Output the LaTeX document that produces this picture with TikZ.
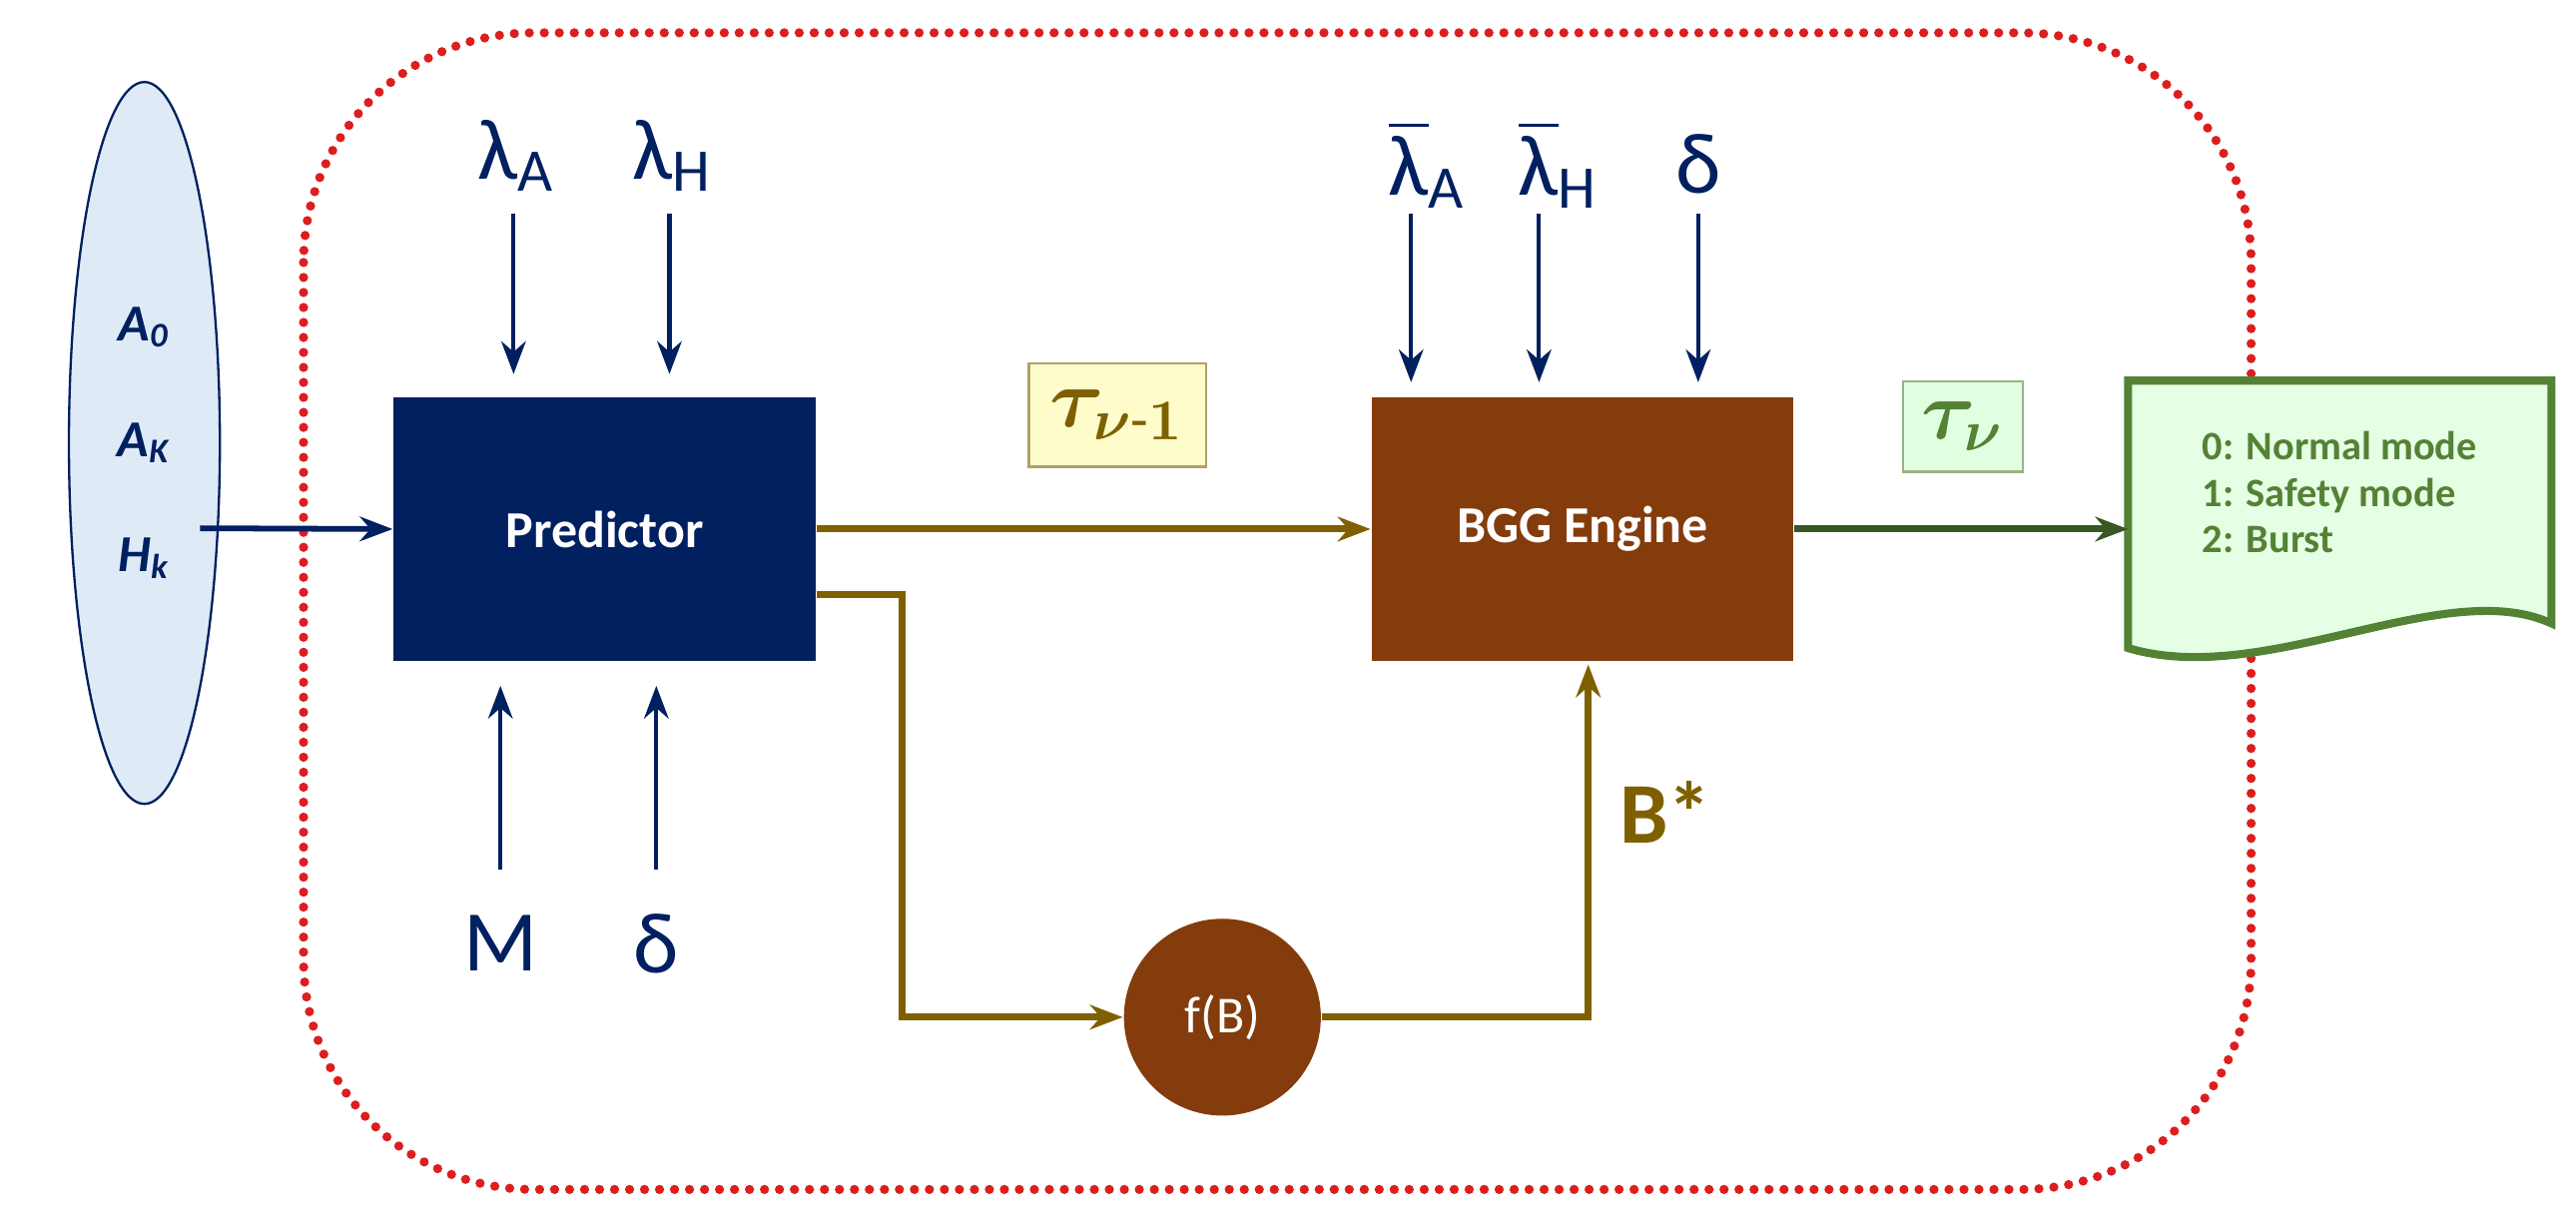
\documentclass[tikz,border=0pt]{standalone}
\usepackage{fontspec}
\usepackage{amsmath}
\setmainfont{Carlito}
\usetikzlibrary{shapes.geometric,arrows.meta}
\definecolor{navyb}{RGB}{0,32,96}
\definecolor{rustb}{RGB}{132,60,12}
\definecolor{olivel}{RGB}{127,96,0}
\definecolor{greend}{RGB}{56,87,35}
\definecolor{greent}{RGB}{84,130,53}
\definecolor{dotred}{RGB}{220,30,30}
\definecolor{inblue}{RGB}{222,235,247}
\begin{document}
\begin{tikzpicture}[
  blockbox/.style={draw=none, minimum width=2.57cm, minimum height=1.61cm, text=white, font=\bfseries\small},
  param/.style={text=navyb, font=\fontsize{15}{17}\selectfont},
  inarrow/.style={-{Stealth[length=2mm]}, navyb, line width=0.7pt},
  oarrow/.style={-{Stealth[length=2mm]}, olivel, line width=1.2pt},
  taubox/.style={draw=olivel!60, fill=#1, inner sep=1pt}
]
\useasboundingbox (0,0) rectangle (15.7,-7.455);
% boundary
\draw[dotred, line width=1.6pt, dash pattern=on 0pt off 2.6pt, line cap=round, rounded corners=1.4cm]
  (1.85,-0.2) rectangle (13.72,-7.25);

% input
\node[ellipse, draw=navyb, fill=inblue, minimum width=0.92cm, minimum height=4.4cm] (inp) at (0.88,-2.7) {};
\node[text=navyb, font=\bfseries\itshape\small, align=center] at (inp) {A\textsubscript{0}\\[9pt]A\textsubscript{K}\\[9pt]H\textsubscript{k}};
\coordinate (inl) at (1.22,-3.22);

% blocks
\node[blockbox, fill=navyb] (pred) at (3.685,-3.225) {Predictor};
\node[blockbox, fill=rustb] (bgg) at (9.645,-3.225) {BGG Engine};
\node[circle, fill=rustb, minimum size=1.2cm, text=white, font=\small] (fb) at (7.45,-6.2) {f(B)};

% predictor parameters
\node[param] (la) at (3.15,-0.95) {λ\textsubscript{A}};
\node[param] (lh) at (4.1,-0.95) {λ\textsubscript{H}};
\node[param] (pm) at (3.05,-5.75) {M};
\node[param] (pd) at (4.0,-5.75) {δ};
\draw[inarrow] (3.13,-1.3) -- (3.13,-2.28);
\draw[inarrow] (4.08,-1.3) -- (4.08,-2.28);
\draw[inarrow] (3.05,-5.3) -- (3.05,-4.18);
\draw[inarrow] (4.0,-5.3) -- (4.0,-4.18);

% engine parameters
\node[param] (bla) at (8.7,-1.0) {$\overline{\text{λ}}$\textsubscript{A}};
\node[param] (blh) at (9.5,-1.0) {$\overline{\text{λ}}$\textsubscript{H}};
\node[param] (bd) at (10.35,-1.0) {δ};
\draw[inarrow] (8.6,-1.3) -- (8.6,-2.33);
\draw[inarrow] (9.38,-1.3) -- (9.38,-2.33);
\draw[inarrow] (10.35,-1.3) -- (10.35,-2.33);

% output document
\draw[draw=greent, line width=1.4pt, fill=green!10] (12.97,-2.32) -- (15.55,-2.32) -- (15.55,-3.8)
  .. controls (14.9,-3.5) and (13.8,-4.2) .. (12.97,-3.95) -- cycle;
\node[text=greent, font=\bfseries\scriptsize, align=left] (out) at (14.26,-3.0) {0: Normal mode\\1: Safety mode\\2: Burst};

% connectors
\draw[inarrow, line width=1pt] (inl) -- (pred.west);
\draw[oarrow] (pred.east) -- (bgg.west);
\draw[oarrow] ([yshift=-0.4cm]pred.east) -| (5.5,-6.2) -- (fb.west);
\draw[oarrow] (fb.east) -| (9.68,-4.05);
\draw[-{Stealth[length=2mm]}, greend, line width=1.2pt] (bgg.east) -- (12.97,-3.225);

% labels
\node[taubox=yellow!20, minimum width=1.08cm, minimum height=0.63cm] (tau1) at (6.81,-2.53) {\textcolor{olivel}{\Large$\boldsymbol{\tau_{\nu\text{-}1}}$}};
\node[taubox=green!12, draw=greent!60, minimum width=0.73cm, minimum height=0.55cm] (tau2) at (11.965,-2.6) {\textcolor{greent}{\Large$\boldsymbol{\tau_{\nu}}$}};
\node[text=olivel, font=\bfseries\fontsize{15}{17}\selectfont] (bstar) at (10.15,-4.95) {B*};
\end{tikzpicture}
\end{document}
